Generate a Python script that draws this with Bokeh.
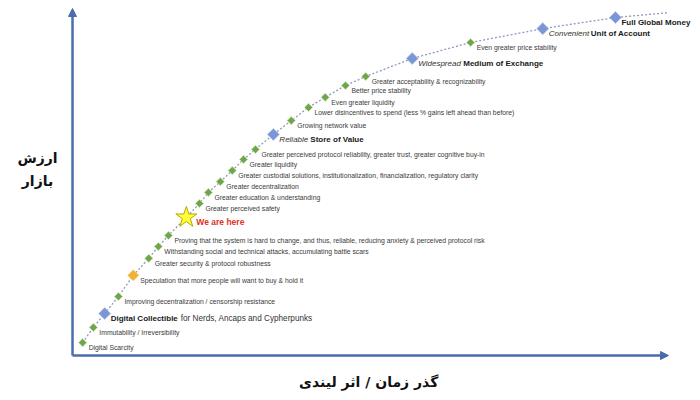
import math
from bokeh.plotting import figure
from bokeh.models import Range1d, Arrow, NormalHead, Label, ColumnDataSource
from bokeh.core.properties import value
from bokeh.embed import file_html
from bokeh.resources import INLINE

# ---- data (x: passage of time / Lindy effect, y: market value, arbitrary 0-100 units) ----
minor_x = [1.7, 3.5, 7.7, 12.8, 14.4, 16.1, 21.3, 22.8, 24.8, 26.8, 28.7, 30.7,
           36.7, 39.6, 42.4, 45.8, 49.2, 66.8]
minor_y = [3.7, 8.1, 17.0, 28.0, 31.4, 34.6, 43.8, 47.0, 50.1, 53.3, 56.5, 59.4,
           67.7, 71.5, 74.4, 77.8, 80.4, 90.2]
minor_labels = [
    "Digital Scarcity",
    "Immutability / Irreversibility",
    "Improving decentralization / censorship resistance",
    "Greater security & protocol robustness",
    "Withstanding social and technical attacks, accumulating battle scars",
    "Proving that the system is hard to change, and thus, reliable, reducing anxiety & perceived protocol risk",
    "Greater perceived safety",
    "Greater education & understanding",
    "Greater decentralization",
    "Greater custodial solutions, institutionalization, financialization, regulatory clarity",
    "Greater liquidity",
    "Greater perceived protocol reliability, greater trust, greater cognitive buy-in",
    "Growing network value",
    "Lower disincentives to spend (less % gains left ahead than before)",
    "Even greater liquidity",
    "Better price stability",
    "Greater acceptability & recognizability",
    "Even greater price stability",
]

milestone_x = [5.4, 33.7, 57.0, 78.9, 91.1]
milestone_y = [12.1, 63.7, 85.6, 94.2, 97.4]
milestone_qualifier = ["", "Reliable", "Widespread", "Convenient", ""]
milestone_title = ["Digital Collectible", "Store of Value", "Medium of Exchange",
                   "Unit of Account", "Full Global Money"]
milestone_note = ["for Nerds, Ancaps and Cypherpunks", "", "", "", ""]

speculation_x = [10.2]
speculation_y = [23.1]
speculation_label = ["Speculation that more people will want to buy & hold it"]

now_x = [19.1]
now_y = [39.8]
now_label = ["We are here"]

curve_tail_x = [100.0]
curve_tail_y = [98.8]

y_title_lines = ["ارزش", "بازار"]
x_title = "گذر زمان / اثر لیندی"

# ---- figure ----
p = figure(width=700, height=400, output_backend="svg", toolbar_location=None,
           x_range=Range1d(-72 / 5.96, 628 / 5.96), y_range=Range1d(-45 / 3.47, 355 / 3.47),
           min_border=0, outline_line_color=None, background_fill_color="white")
p.axis.visible = False
p.grid.visible = False

AXIS = "#4a6cae"
p.add_layout(Arrow(end=NormalHead(size=8, fill_color=AXIS, line_color=AXIS),
                   x_start=0, y_start=0, x_end=0, y_end=100,
                   line_color=AXIS, line_width=2.5))
p.add_layout(Arrow(end=NormalHead(size=8, fill_color=AXIS, line_color=AXIS),
                   x_start=0, y_start=0, x_end=100, y_end=0,
                   line_color=AXIS, line_width=2.5))

# dotted curve through all stages
pts = sorted(zip(minor_x + milestone_x + speculation_x + now_x + curve_tail_x,
                 minor_y + milestone_y + speculation_y + now_y + curve_tail_y))
p.line([a for a, b in pts], [b for a, b in pts], line_color="#8d9bb8",
       line_width=1.3, line_dash="2 2")

# markers
p.scatter(minor_x, minor_y, marker="square", angle=math.pi / 4, size=5.8,
          fill_color="#6fa64a", line_color="#c9e0b8", line_width=0.8)
p.scatter(speculation_x, speculation_y, marker="square", angle=math.pi / 4, size=8,
          fill_color="#f2b134", line_color="#f8d890", line_width=0.8)
p.scatter(milestone_x, milestone_y, marker="square", angle=math.pi / 4, size=8.5,
          fill_color="#7b96d6", line_color="#b8c7ec", line_width=0.8)
p.scatter(now_x, now_y, marker="star", size=22,
          fill_color="#ffff3a", line_color="#b5a800", line_width=1)

FONT = value("Liberation Sans")
common = dict(text_font=FONT, text_baseline="middle", text_align="left", y_offset=5)

p.text(minor_x, minor_y, text=minor_labels, x_offset=6, text_font_size="6.8px",
       text_color="#3a3a3a", **common)
p.text(speculation_x, speculation_y, text=speculation_label, x_offset=7,
       text_font_size="6.8px", text_color="#3a3a3a", **common)
p.text(now_x, now_y, text=now_label, x_offset=10, text_font_size="8.5px",
       text_font_style="bold", text_color="#e0321e", **common)

title_offset = [6, 37, 51, 48, 6]
note_offset = [76, 0, 0, 0, 0]
ms = ColumnDataSource(dict(x=milestone_x, y=milestone_y, q=milestone_qualifier,
                           t=milestone_title, n=milestone_note,
                           toff=title_offset, noff=note_offset))
p.text("x", "y", text="q", source=ms, x_offset=6, text_font_size="8px",
       text_font_style="italic", text_color="#333333", **common)
p.text("x", "y", text="t", source=ms, x_offset="toff", text_font_size="8px",
       text_font_style="bold", text_color="#1a1a1a", **common)
p.text("x", "y", text="n", source=ms, x_offset="noff", text_font_size="8.2px",
       text_color="#333333", **common)

# Persian axis titles
PFONT = "DejaVu Sans"
p.add_layout(Label(x=-5.87, y=56.8, text=y_title_lines[0], text_font=PFONT,
                   text_font_size="14px", text_font_style="bold", text_align="center",
                   text_baseline="middle", text_color="#111111"))
p.add_layout(Label(x=-5.87, y=50.4, text=y_title_lines[1], text_font=PFONT,
                   text_font_size="14px", text_font_style="bold", text_align="center",
                   text_baseline="middle", text_color="#111111"))
p.add_layout(Label(x=49.7, y=-7.5, text=x_title, text_font=PFONT,
                   text_font_size="14px", text_font_style="bold", text_align="center",
                   text_baseline="middle", text_color="#111111"))

open("out.html", "w").write(file_html(p, INLINE))
